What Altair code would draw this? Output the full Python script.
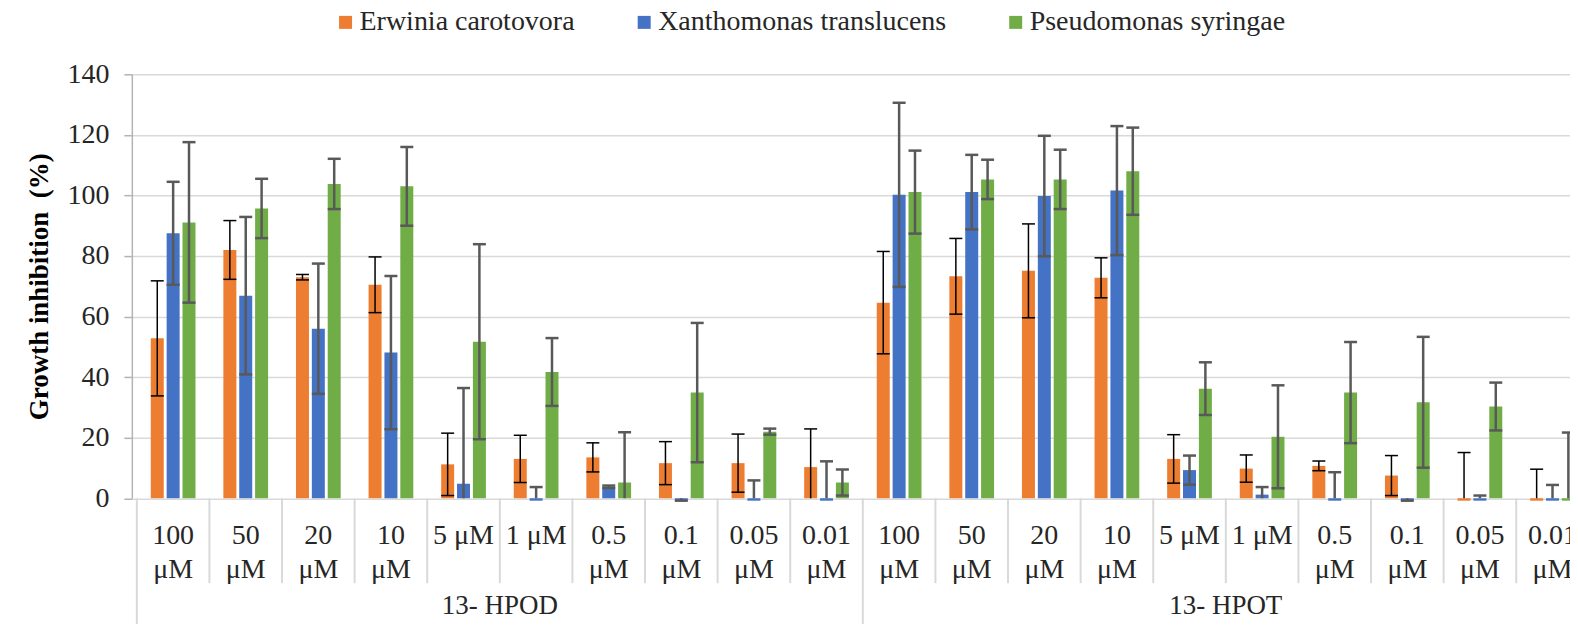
import altair as alt
import pandas as pd

FONT = "Liberation Serif"

compounds = ["13- HPOD", "13- HPOT"]
concentrations = ["100 μM", "50 μM", "20 μM", "10 μM", "5 μM", "1 μM",
                  "0.5 μM", "0.1 μM", "0.05 μM", "0.01 μM"]
tick_labels = ["100\nμM", "50\nμM", "20\nμM", "10\nμM", "5 μM", "1 μM",
               "0.5\nμM", "0.1\nμM", "0.05\nμM", "0.01\nμM"]
series = ["Erwinia carotovora", "Xanthomonas translucens", "Pseudomonas syringae"]
colors = ["#ED7D31", "#4472C4", "#70AD47"]

# 13-HPOD (10 concentrations) followed by 13-HPOT (10 concentrations)
erwinia_mean = [52.8, 82.0, 73.0, 70.5, 11.2, 13.0, 13.5, 11.6, 11.6, 10.3,
                64.6, 73.3, 75.1, 72.8, 13.0, 9.8, 10.7, 7.5, -0.8, -0.8]
erwinia_err = [19.0, 9.7, 0.9, 9.2, 10.3, 7.8, 4.8, 7.1, 9.6, 12.6,
               16.9, 12.5, 15.5, 6.6, 8.0, 4.5, 1.6, 6.6, 15.9, 10.4]
xantho_mean = [87.5, 66.9, 56.0, 48.1, 4.8, -0.8, 3.8, -0.8, -0.8, -0.8,
               100.2, 101.1, 99.8, 101.6, 9.3, 1.2, -0.8, -0.8, -0.8, -0.8]
xantho_err = [17.0, 26.0, 21.5, 25.3, 31.6, 4.5, 0.4, 0.0, 6.7, 13.0,
              30.4, 12.3, 19.9, 21.3, 4.8, 2.5, 9.4, 0.0, 1.7, 5.2]
pseudo_mean = [91.1, 95.7, 103.8, 103.0, 51.7, 41.7, 5.2, 34.9, 22.0, 5.2,
               101.1, 105.3, 105.3, 108.0, 36.2, 20.3, 34.9, 31.7, 30.3, -0.8]
pseudo_err = [26.5, 9.8, 8.3, 13.0, 32.2, 11.2, 16.6, 23.0, 1.0, 4.3,
              13.7, 6.5, 9.8, 14.4, 8.7, 17.0, 16.7, 21.6, 7.9, 22.5]

# ---- tables built from the arrays ----
rows = []
for s_i, (name, means, errs) in enumerate(zip(series,
                                               [erwinia_mean, xantho_mean, pseudo_mean],
                                               [erwinia_err, xantho_err, pseudo_err])):
    for c_i, (m, e) in enumerate(zip(means, errs)):
        rows.append(dict(series=name, s=s_i, idx=c_i,
                         compound=compounds[c_i // len(concentrations)],
                         conc=concentrations[c_i % len(concentrations)],
                         value=m, err=e))
df = pd.DataFrame(rows)

n_cat = len(compounds) * len(concentrations)
labels_df = pd.DataFrame({"idx": list(range(n_cat)),
                          "label": tick_labels * len(compounds)})
group_df = pd.DataFrame({"compound": compounds,
                         "gidx": list(range(len(compounds)))})
sep_df = pd.DataFrame({"b": list(range(n_cat + 1))})

# ---- layout ----
W, H = 1440, 424.5
CAT_PX = 73.2
X_MAX = W / CAT_PX
xscale = alt.Scale(domain=[0, X_MAX], nice=False, zero=False)
yscale = alt.Scale(domain=[0, 140], nice=False)
OFF = 16 / CAT_PX

base = alt.Chart(df).transform_calculate(
    xpos=f"datum.idx + 0.5 + (datum.s - 1) * {OFF}",
    lo="max(0, datum.value - datum.err)",
    hi="datum.value + datum.err",
    haslo="datum.value - datum.err >= 0",
)

yaxis = alt.Axis(
    values=list(range(0, 141, 20)), title="Growth inhibition\u00a0 (%)",
    grid=True, gridColor="#d9d9d9", gridWidth=1.5,
    domainColor="#b3b3b3", domainWidth=1.5,
    tickColor="#b3b3b3", tickSize=8, tickWidth=1.5,
    labelFont=FONT, labelFontSize=28, labelColor="#262626", labelPadding=15,
    titleFont=FONT, titleFontSize=27, titleFontWeight="bold", titleColor="#000000",
    titleX=-92, titleY=H / 2, titleAngle=270, titleAlign="center",
    titleBaseline="middle",
)

bars = base.mark_bar(size=13, orient="vertical").encode(
    x=alt.X("xpos:Q", scale=xscale, axis=None),
    y=alt.Y("value:Q", scale=yscale, axis=yaxis, stack=None),
    color=alt.Color("series:N", scale=alt.Scale(domain=series, range=colors),
                    legend=alt.Legend(title=None, orient="none", legendX=200, legendY=-66,
                                      direction="horizontal", symbolType="square",
                                      symbolSize=169, symbolStrokeWidth=0, symbolOpacity=1,
                                      labelFont=FONT, labelFontSize=28, labelColor="#262626",
                                      labelOffset=0, columnPadding=55, labelLimit=600,
                                      padding=0)),
)


def err_layers(src, color, width):
    stem = src.mark_rule(color=color, strokeWidth=width).encode(
        x=alt.X("xpos:Q", scale=xscale, axis=None),
        y=alt.Y("lo:Q", scale=yscale), y2="hi:Q")
    top = src.mark_tick(orient="horizontal", size=13, thickness=width,
                        color=color, opacity=1).encode(
        x=alt.X("xpos:Q", scale=xscale, axis=None),
        y=alt.Y("hi:Q", scale=yscale))
    bot = src.transform_filter("datum.haslo").mark_tick(
        orient="horizontal", size=13, thickness=width, color=color, opacity=1).encode(
        x=alt.X("xpos:Q", scale=xscale, axis=None),
        y=alt.Y("lo:Q", scale=yscale))
    return [stem, top, bot]


err_o = err_layers(base.transform_filter("datum.s == 0"), "#000000", 1.5)
err_g = err_layers(base.transform_filter("datum.s > 0"), "#595959", 2.5)

short_sep = alt.Chart(sep_df).transform_filter("datum.b % 10 != 0").mark_rule(
    color="#d9d9d9", strokeWidth=2).encode(
    x=alt.X("b:Q", scale=xscale, axis=None),
    y=alt.value(H), y2=alt.value(H + 85))
long_sep = alt.Chart(sep_df).transform_filter("datum.b % 10 == 0").mark_rule(
    color="#d9d9d9", strokeWidth=2).encode(
    x=alt.X("b:Q", scale=xscale, axis=None),
    y=alt.value(H), y2=alt.value(H + 126))

tick_text = alt.Chart(labels_df).transform_calculate(
    xl="datum.idx + 0.5").mark_text(
    font=FONT, fontSize=28, baseline="top", align="center", lineBreak="\n",
    lineHeight=34, color="#262626").encode(
    x=alt.X("xl:Q", scale=xscale, axis=None),
    y=alt.value(H + 23.5), text="label:N")

group_text = alt.Chart(group_df).transform_calculate(
    xg=f"datum.gidx * {len(concentrations)} + {len(concentrations)} / 2").mark_text(
    font=FONT, fontSize=27, baseline="alphabetic", align="center",
    color="#262626").encode(
    x=alt.X("xg:Q", scale=xscale, axis=None),
    y=alt.value(H + 116), text="compound:N")

chart = alt.layer(
    short_sep, long_sep, bars, *err_o, *err_g, tick_text, group_text
).properties(
    width=W, height=H,
    autosize=alt.AutoSizeParams(type="none"),
    padding={"left": 124, "top": 66, "right": 0, "bottom": 125.5},
    background="white",
).configure(font=FONT).configure_view(strokeWidth=0).configure_legend(
    labelFont=FONT, labelFontSize=28, labelColor="#262626"
)

chart.save("out.html", embed_options={"renderer": "svg", "actions": False})
